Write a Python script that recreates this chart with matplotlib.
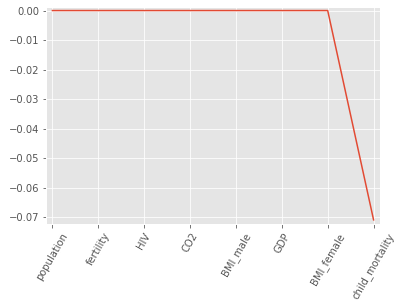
import matplotlib
matplotlib.use("Agg")
import matplotlib.pyplot as plt

plt.style.use("ggplot")

features = ["population", "fertility", "HIV", "CO2", "BMI_male", "GDP",
            "BMI_female", "child_mortality"]
coefs = [0.0, 0.0, 0.0, 0.0, 0.0, 0.0, 0.0, -0.0708]

fig = plt.figure(figsize=(403 / 72, 308 / 72), dpi=72)
ax = fig.add_axes([46 / 403, 1 - 224 / 308, 334 / 403, 217 / 308])

ax.plot(range(len(features)), coefs)
ax.set_xticks(range(len(features)))
ax.set_xticklabels(features, rotation=60)
ax.set_xlim(-0.14, len(features) - 1 + 0.14)
ax.set_ylim(-0.0722, 0.0012)

fig.savefig("out.png", dpi=72)
